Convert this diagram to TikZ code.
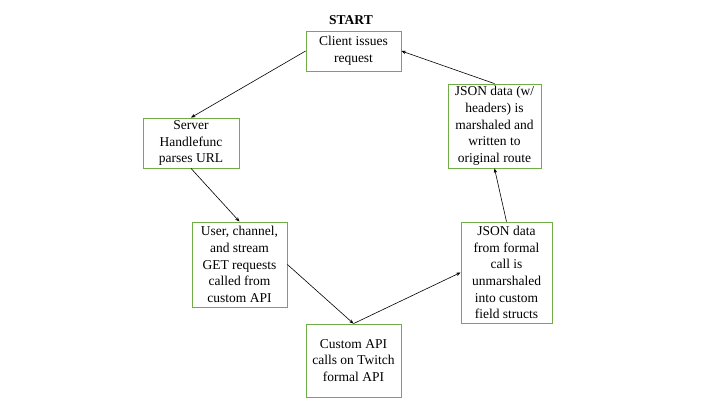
\documentclass[tikz,border=0pt]{standalone}
\usepackage{fontspec}
\setmainfont{Liberation Serif}
\usetikzlibrary{arrows.meta}
\definecolor{boxgreen}{HTML}{70AD47}

\begin{document}
\begin{tikzpicture}
        [x=1pt,y=-1pt,line width=0.6pt,>={Stealth[length=4.5pt,width=3.5pt]},
         box/.style={draw=boxgreen,line width=0.8pt,align=center,inner sep=0pt,
                     font=\fontsize{13.5}{16.7}\selectfont}]
        \useasboundingbox (0,0) rectangle (720,405);
        \node[font=\fontsize{13.5}{16}\selectfont\bfseries] (start) at (351,20) {START};
        \node[box,minimum width=95pt,minimum height=40pt] (client) at (353.5,51) {Client issues\\request};
        \node[box,minimum width=96pt,minimum height=50pt] (server) at (191,143) {Server\\Handlefunc\\parses URL};
        \node[box,minimum width=95pt,minimum height=85pt] (get) at (239.5,264.5) {User, channel,\\and stream\\GET requests\\called from\\custom API};
        \node[box,minimum width=95pt,minimum height=73pt] (twitch) at (353.5,360.5) {Custom API\\calls on Twitch\\formal API};
        \node[box,minimum width=91pt,minimum height=101pt] (unmarshal) at (506.5,272.5) {JSON data\\from formal\\call is\\unmarshaled\\into custom\\field structs};
        \node[box,minimum width=93pt,minimum height=84pt] (marshal) at (494.5,126) {JSON data (w/\\headers) is\\marshaled and\\written to\\original route};

        % going down the left side
        \draw[->] (client.west) -- (server.north);
        \draw[->] (server.south) -- (get.north);
        \draw[->] (get.east) -- (twitch.north);
        % coming back up the right side
        \draw[->] (twitch.north) -- (unmarshal.west);
        \draw[->] (unmarshal.north) -- (marshal.south);
        \draw[->] (marshal.north) -- (client.east);
    \end{tikzpicture}
\end{document}
